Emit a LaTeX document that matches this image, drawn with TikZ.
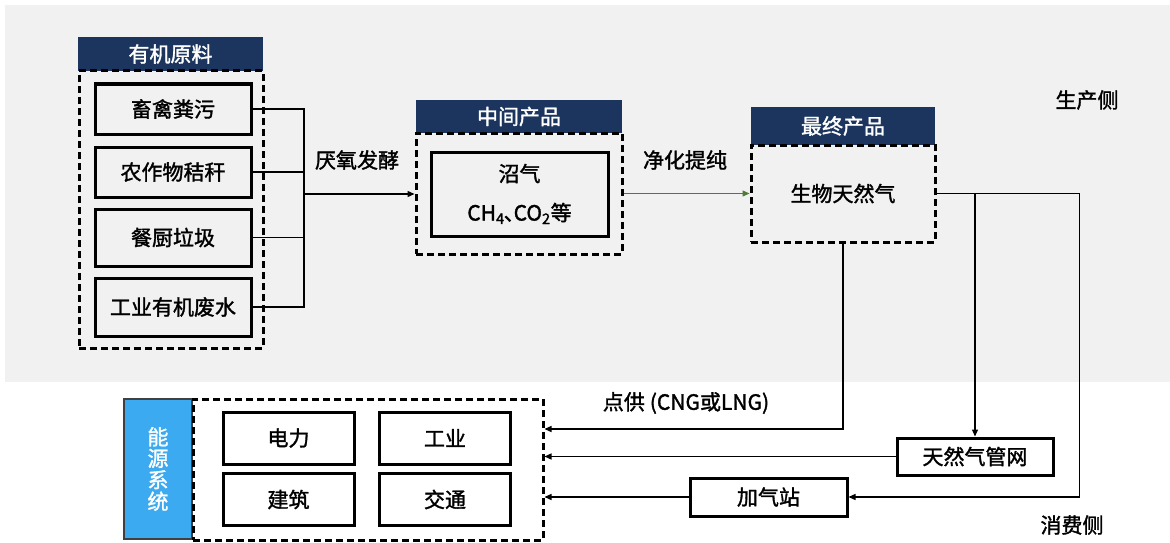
\documentclass[tikz,border=0pt]{standalone}
\usepackage{fontspec}
\setmainfont{Noto Sans CJK SC}[UprightFeatures={FakeBold=1.5}]
\usetikzlibrary{arrows.meta,positioning}
\definecolor{navy}{HTML}{1C355E}
\definecolor{skyblue}{HTML}{3BAAF0}
\definecolor{bggray}{HTML}{F1F1F1}
\definecolor{arrowgreen}{HTML}{4E7B35}

\begin{document}
\begin{tikzpicture}
  [
  x=1pt, y=-1pt,
  font=\fontsize{21}{25}\selectfont, draw=black, >={Triangle[length=7pt,width=6pt]}, line width=1.3pt,
  header/.style={rectangle, fill=navy, text=white, inner sep=0pt},
  group/.style={rectangle, draw=black, line width=3pt, dash pattern=on 7pt off 4pt, inner sep=0pt},
  item/.style={rectangle, draw=black, line width=3pt, inner sep=0pt},
  label/.style={inner sep=0pt}
  ]

\useasboundingbox (0,0) rectangle (1170,543);
\fill[bggray] (5,5) rectangle (1170,382);

% organic feedstock
\node[header, minimum width=185pt, minimum height=34pt] (rawhead) at (170.5,54) {有机原料};
\node[group, minimum width=184pt, minimum height=277pt] (raw) at (171,209.5) {};

\foreach \t/\y/\h [count=\i] in {畜禽粪污/109/50, 农作物秸秆/172/50, 餐厨垃圾/237.5/57, 工业有机废水/307/58} {
  \node[item, minimum width=156pt, minimum height=\h] (s\i) at (173,\y) {\t};
}

% intermediate product
\node[header, minimum width=206pt, minimum height=33pt] (midhead) at (519,116.5) {中间产品};
\node[group, minimum width=206pt, minimum height=121pt] (mid) at (519,193.5) {};
\node[item, minimum width=177pt, minimum height=84pt, align=center, font=\fontsize{21}{39}\selectfont] (biogas) at (519.5,194)
  {沼气\\CH\textsubscript{4}\kern-1pt、\kern-11pt CO\textsubscript{2}等};

% final product
\node[header, minimum width=184pt, minimum height=38pt] (finhead) at (843,126) {最终产品};
\node[group, minimum width=184pt, minimum height=97pt] (fin) at (843,193.5) {生物天然气};

\coordinate (joint) at (304,194);
\foreach \i in {1,...,4} {
  \draw (s\i.east) -| (joint);
}
\draw[->] (joint) -- (joint -| mid.west);
\node[label] (ferment) at (357,160) {厌氧发酵};

\draw[->, arrowgreen] (mid.east) -- (fin.west);
\node[label] (purify) at (685,160) {净化提纯};

% energy system
\node[rectangle, fill=skyblue, draw=black!75, line width=2pt, text=white, align=center, inner sep=0pt,
  minimum width=68pt, minimum height=140pt, font=\fontsize{21}{21.5}\selectfont] (sys) at (158,469) {能\\源\\系\\统};
\node[group, minimum width=350pt, minimum height=141pt] (use) at (368,469.5) {};

\foreach \t/\x/\y [count=\i] in {电力/288.5/438, 工业/445/438, 建筑/288.5/499.5, 交通/445/499.5} {
  \node[item, minimum width=131pt, minimum height=52pt] (u\i) at (\x,\y) {\t};
}

\node[item, minimum width=156pt, minimum height=37pt] (grid) at (975,456.5) {天然气管网};
\node[item, minimum width=157pt, minimum height=38pt] (station) at (768.5,497) {加气站};

\draw[->] (fin.south) |- ([yshift=40.5pt]use.east);
\draw[->] (grid.west) -- (grid.west -| use.east);
\draw[->] (station.west) -- (station.west -| use.east);
\draw[->] (fin.east -| grid.north) -- (grid.north);
\draw[->] (fin.east) -- ++(143,0) |- (station.east);

\node[label] (supply) at (686,403) {点供\hspace{5pt}(CNG或LNG)};
\node[label] (prodside) at (1087,100) {生产侧};
\node[label] (consside) at (1072,525) {消费侧};

\end{tikzpicture}
\end{document}
